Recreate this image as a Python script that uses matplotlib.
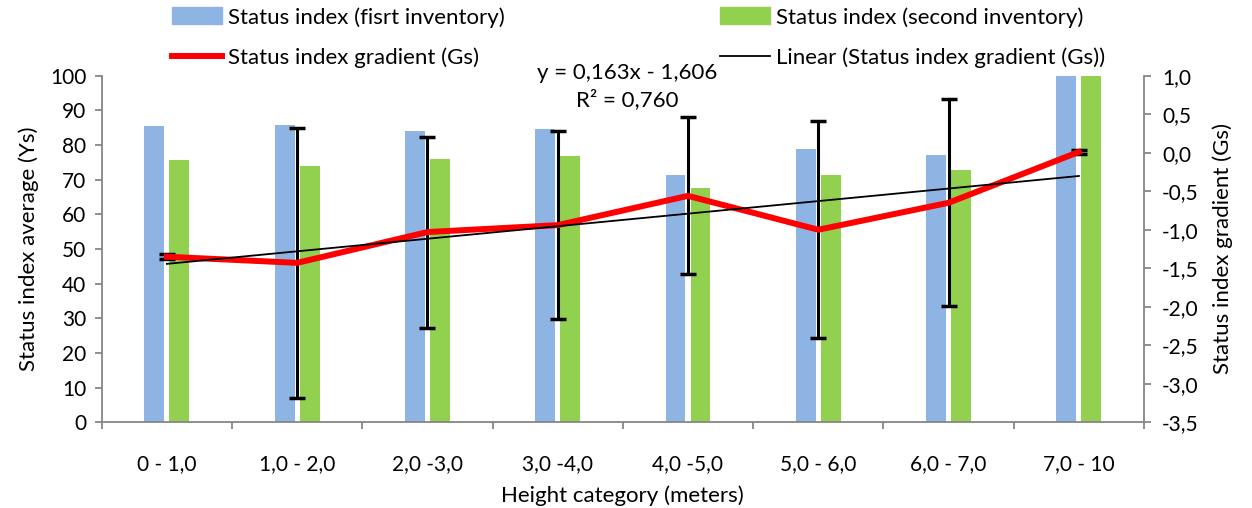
import numpy as np
import matplotlib.pyplot as plt
from matplotlib.lines import Line2D
from matplotlib.patches import Patch

plt.rcParams['font.family'] = ['Lato', 'DejaVu Sans']

# height classes and values
categories = ['0 - 1,0', '1,0 - 2,0', '2,0 -3,0', '3,0 -4,0', '4,0 -5,0', '5,0 - 6,0', '6,0 - 7,0', '7,0 - 10']
ys_first = [85.5, 85.8, 84.0, 84.6, 71.3, 78.9, 77.1, 100.0]
ys_second = [75.8, 73.9, 76.0, 76.8, 67.6, 71.3, 72.8, 100.0]
gs = [-1.35, -1.43, -1.03, -0.94, -0.56, -1.00, -0.65, 0.01]
gs_err = [0.03, 1.75, 1.24, 1.22, 1.02, 1.41, 1.345, 0.03]
slope, intercept = 0.163, -1.606

blue = '#8EB4E3'
green = '#92D050'
grey = '#868686'
fs = 16
fs_tick = 15

fig = plt.figure(figsize=(12.52, 5.08), dpi=100)
ax = fig.add_axes([101.7 / 1252, (508 - 422.3) / 508, (1144 - 101.7) / 1252, (422.3 - 75.7) / 508])

x = np.arange(len(categories))
ax.bar(x - 0.096, ys_first, width=0.153, color=blue, zorder=2)
ax.bar(x + 0.096, ys_second, width=0.153, color=green, zorder=2)
ax.set_xlim(-0.5, len(categories) - 0.5)
ax.set_ylim(0, 100)
ax.set_yticks(np.arange(0, 101, 10))
ax.set_xticks(x)
ax.set_xticklabels(categories, fontsize=fs_tick)
ax.set_xticks(np.arange(-0.5, len(categories), 1), minor=True)
ax.tick_params(axis='x', which='major', length=0, pad=23)
ax.tick_params(axis='x', which='minor', length=5, color=grey, width=1.3)
ax.tick_params(axis='y', length=5, color=grey, width=1.3, labelsize=fs_tick, pad=6)
ax.set_xlabel('Height category (meters)', fontsize=fs, labelpad=8)
ax.set_ylabel('Status index average (Ys)', fontsize=fs, labelpad=8)
for s in ['top', 'right']:
    ax.spines[s].set_visible(False)
for s in ['left', 'bottom']:
    ax.spines[s].set_color(grey)
    ax.spines[s].set_linewidth(1.3)

# gradient on the secondary axis
ax2 = ax.twinx()
ax2.set_ylim(-3.5, 1.0)
ax2.set_yticks(np.arange(-3.5, 1.01, 0.5))
ax2.set_yticklabels([f'{v:.1f}'.replace('.', ',') for v in np.arange(-3.5, 1.01, 0.5)])
ax2.tick_params(axis='y', length=5, color=grey, width=1.3, labelsize=fs_tick, pad=8)
ax2.set_ylabel('Status index gradient (Gs)', fontsize=fs, labelpad=10)
for s in ['top', 'left', 'bottom']:
    ax2.spines[s].set_visible(False)
ax2.spines['right'].set_color(grey)
ax2.spines['right'].set_linewidth(1.3)

ax2.errorbar(x, gs, yerr=gs_err, fmt='none', ecolor='black', elinewidth=2.2,
             capsize=6, capthick=2.5, zorder=3)
ax2.plot(x, gs, color='#FF0000', lw=4.3, zorder=4, solid_joinstyle='miter')
trend = slope * (x + 1) + intercept
ax2.plot(x, trend, color='black', lw=1.3, zorder=5)

fig.text(627 / 1252, 1 - 73 / 508, 'y = 0,163x - 1,606', fontsize=fs, ha='center', va='center')
fig.text(627 / 1252, 1 - 100 / 508, 'R² = 0,760', fontsize=fs, ha='center', va='center')

handles = [Patch(color=blue), Line2D([], [], color='#FF0000', lw=4.3),
           Patch(color=green), Line2D([], [], color='black', lw=1.3)]
labels = ['Status index (fisrt inventory)', 'Status index gradient (Gs)',
          'Status index (second inventory)', 'Linear (Status index gradient (Gs))']
fig.legend(handles, labels, ncol=2, loc='upper left', bbox_to_anchor=(172 / 1252, 1 - 7 / 508),
           frameon=False, fontsize=fs, borderpad=0, borderaxespad=0, handlelength=2.25,
           handleheight=0.8, handletextpad=0.27, columnspacing=9.7, labelspacing=0.9)

fig.savefig('out.png', dpi=100)
